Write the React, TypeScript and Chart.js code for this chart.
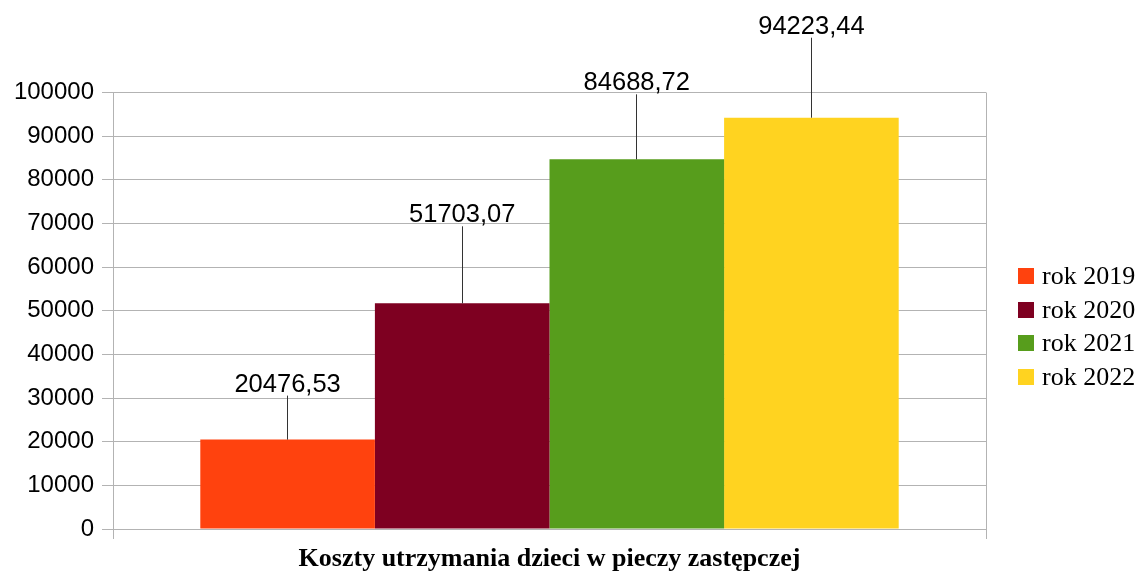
import React, { useEffect, useRef } from 'react';
import { Chart, registerables } from 'chart.js';

Chart.register(...registerables);

const categories = ['Koszty utrzymania dzieci w pieczy zastępczej'];
const seriesNames = ['rok 2019', 'rok 2020', 'rok 2021', 'rok 2022'];
const values2019 = [20476.53];
const values2020 = [51703.07];
const values2021 = [84688.72];
const values2022 = [94223.44];
const yTickValues = [0, 10000, 20000, 30000, 40000, 50000, 60000, 70000, 80000, 90000, 100000];

const seriesColors = ['#ff420e', '#7e0021', '#579d1c', '#ffd320'];
const leaderLengths = [44, 77, 65, 80];

const fmt = (v: number) => v.toFixed(2).replace('.', ',');

const valueLabelPlugin = {
  id: 'valueLabels',
  afterDatasetsDraw(chart: any) {
    const ctx = chart.ctx;
    ctx.save();
    chart.data.datasets.forEach((ds: any, i: number) => {
      const meta = chart.getDatasetMeta(i);
      meta.data.forEach((bar: any, j: number) => {
        const x = Math.floor(bar.x) + 0.5;
        const top = bar.y;
        const len = leaderLengths[i];
        ctx.strokeStyle = '#333333';
        ctx.lineWidth = 1;
        ctx.beginPath();
        ctx.moveTo(x, top);
        ctx.lineTo(x, top - len);
        ctx.stroke();
        ctx.font = '25.5px "Liberation Sans", Arial, sans-serif';
        ctx.fillStyle = '#000000';
        ctx.textAlign = 'center';
        ctx.textBaseline = 'alphabetic';
        ctx.fillText(fmt(ds.data[j]), bar.x, top - len - 4);
      });
    });
    ctx.restore();
  },
};

const sideLegendPlugin = {
  id: 'sideLegend',
  afterDraw(chart: any) {
    const { ctx, chartArea } = chart;
    const x0 = chartArea.right + 32;
    const firstTop = chartArea.top + 175.5;
    const step = 33.67;
    ctx.save();
    ctx.font = '26px "Liberation Serif", "Times New Roman", serif';
    ctx.textAlign = 'left';
    ctx.textBaseline = 'alphabetic';
    chart.data.datasets.forEach((ds: any, i: number) => {
      const top = Math.round(firstTop + i * step);
      ctx.fillStyle = ds.backgroundColor;
      ctx.fillRect(x0, top, 16, 16);
      ctx.fillStyle = '#000000';
      ctx.fillText(ds.label, x0 + 24, top + 16);
    });
    ctx.restore();
  },
};

export default function App() {
  const canvasRef = useRef<HTMLCanvasElement | null>(null);

  useEffect(() => {
    if (!canvasRef.current) return;
    const seriesValues = [values2019, values2020, values2021, values2022];
    const chart = new Chart(canvasRef.current, {
      type: 'bar',
      data: {
        labels: categories,
        datasets: seriesNames.map((name, i) => ({
          label: name,
          data: seriesValues[i],
          backgroundColor: seriesColors[i],
          borderWidth: 0,
          barPercentage: 1,
          categoryPercentage: 0.8,
        })),
      },
      options: {
        responsive: false,
        animation: false,
        events: [],
        layout: { padding: { top: 92.5, right: 154, bottom: 0, left: 0 } },
        plugins: {
          legend: { display: false },
          tooltip: { enabled: false },
        },
        scales: {
          x: {
            ticks: { display: false },
            grid: { color: '#b3b3b3', tickLength: 10, offset: true },
            border: { color: '#b3b3b3' },
            title: {
              display: true,
              text: categories[0],
              color: '#000000',
              font: { family: '"Liberation Serif", "Times New Roman", serif', size: 26, weight: 'bold', lineHeight: 1 },
              padding: { top: 7, bottom: 0 },
            },
            afterFit: (s: any) => {
              s.height = 43;
            },
          },
          y: {
            min: 0,
            max: 100000,
            afterBuildTicks: (s: any) => {
              s.ticks = yTickValues.map((v) => ({ value: v }));
            },
            ticks: {
              color: '#000000',
              padding: 8,
              font: { family: '"Liberation Sans", Arial, sans-serif', size: 24 },
              callback: (v: any) => String(v),
            },
            grid: { color: '#b3b3b3', tickLength: 11 },
            border: { color: '#b3b3b3' },
            afterFit: (s: any) => {
              s.width = 113;
            },
          },
        },
      },
      plugins: [valueLabelPlugin, sideLegendPlugin],
    });
    return () => chart.destroy();
  }, []);

  return (
    <div style={{ position: 'fixed', left: 0, top: 0, width: 1140, height: 572, background: '#ffffff' }}>
      <canvas ref={canvasRef} width={1140} height={572} style={{ display: 'block' }} />
    </div>
  );
}
